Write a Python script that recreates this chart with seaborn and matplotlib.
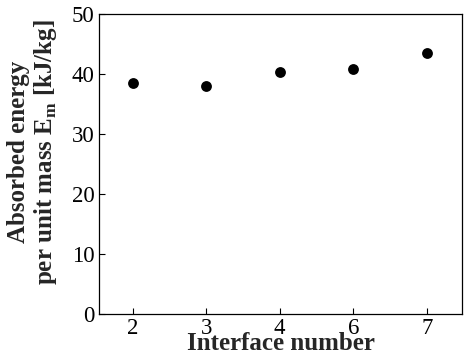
import matplotlib
matplotlib.use("Agg")
import matplotlib.pyplot as plt
import seaborn as sns
import pandas as pd

interfaces = ["2", "3", "4", "6", "7"]
energy = [38.5, 38.0, 40.4, 40.9, 43.5]

sns.set_style("ticks")
plt.rcParams["font.family"] = ["Liberation Serif", "DejaVu Serif"]
plt.rcParams["mathtext.fontset"] = "custom"
plt.rcParams["mathtext.bf"] = "Liberation Serif:bold"
plt.rcParams["mathtext.rm"] = "Liberation Serif:bold"

df = pd.DataFrame({"Interface": interfaces, "Energy": energy})

fig = plt.figure(figsize=(4.69, 3.63), dpi=100)
ax = fig.add_axes([0.211, 0.135, 0.774, 0.826])
sns.stripplot(data=df, x="Interface", y="Energy", jitter=False, color="black",
              size=7.8, ax=ax, order=interfaces)
ax.set_xlim(-0.46, 4.48)
ax.set_ylim(0, 50)
ax.set_yticks([0, 10, 20, 30, 40, 50])
ax.tick_params(direction="in", length=4, width=0.8, labelsize=16.5, colors="black", pad=3)
for s in ax.spines.values():
    s.set_visible(True)
    s.set_linewidth(0.9)
    s.set_color("black")
ax.set_xlabel("Interface number", fontsize=18, fontweight="bold")
ax.xaxis.set_label_coords(0.5, -0.06)
ax.set_ylabel("Absorbed energy\nper unit mass E$_{\\mathbf{m}}$ [kJ/kg]", fontsize=18,
              fontweight="bold", linespacing=1.08)
ax.yaxis.set_label_coords(-0.11, 0.54)
fig.savefig("out.png", dpi=100)
